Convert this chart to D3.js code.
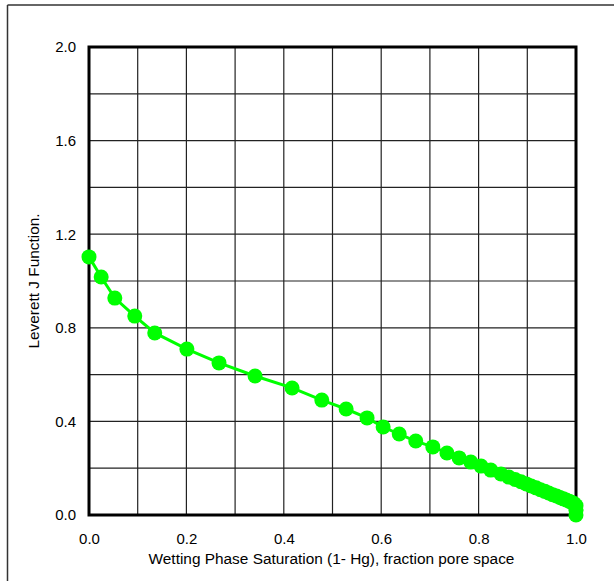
<!DOCTYPE html>
<html><head><meta charset="utf-8">
<script src="https://cdn.jsdelivr.net/npm/d3@7"></script>
<style>body{margin:0;background:#fff;}svg{display:block;font-family:"Liberation Sans",Arial,sans-serif;}</style>
</head><body>
<script>
const saturation = [0.0,0.025,0.053,0.094,0.135,0.201,0.267,0.341,0.417,0.478,0.528,0.571,0.604,0.637,0.671,0.706,0.735,0.760,0.784,0.805,0.825,0.846,0.862,0.875,0.887,0.898,0.908,0.918,0.927,0.936,0.944,0.952,0.960,0.967,0.974,0.980,0.986,0.991,0.996,1.0,1.0,1.0];
const jFunction  = [1.103,1.017,0.927,0.850,0.778,0.709,0.650,0.594,0.543,0.491,0.453,0.415,0.376,0.346,0.316,0.291,0.265,0.244,0.226,0.209,0.192,0.175,0.162,0.152,0.142,0.133,0.124,0.116,0.108,0.101,0.094,0.087,0.081,0.075,0.069,0.064,0.059,0.054,0.049,0.040,0.020,0.0];
const xTicks = [0,0.2,0.4,0.6,0.8,1.0];
const yTicks = [0,0.4,0.8,1.2,1.6,2.0];
const xGrid = d3.range(0,11).map(i=>i/10);
const yGrid = d3.range(0,11).map(i=>i/5);
const xTitle = "Wetting Phase Saturation (1- Hg), fraction pore space";
const yTitle = "Leverett J Function.";

const W=614,H=581,FS=15;
const svg=d3.select("body").append("svg").attr("width",W).attr("height",H);
// outer frame
svg.append("line").attr("x1",7.5).attr("x2",7.5).attr("y1",5).attr("y2",H).attr("stroke","#333").attr("stroke-width",1.5);
svg.append("line").attr("x1",7.5).attr("x2",W).attr("y1",5).attr("y2",5).attr("stroke","#333").attr("stroke-width",1.5);

const L=89,R=576,T=47,B=515;
const x=d3.scaleLinear().domain([0,1]).range([L,R]);
const y=d3.scaleLinear().domain([0,2]).range([B,T]);

const g=svg.append("g");
g.selectAll(".gx").data(xGrid).join("line").attr("x1",d=>x(d)).attr("x2",d=>x(d)).attr("y1",T).attr("y2",B).attr("stroke","#222").attr("stroke-width",1.2);
g.selectAll(".gy").data(yGrid).join("line").attr("y1",d=>y(d)).attr("y2",d=>y(d)).attr("x1",L).attr("x2",R).attr("stroke","#222").attr("stroke-width",1.2);
g.append("rect").attr("x",L).attr("y",T).attr("width",R-L).attr("height",B-T).attr("fill","none").attr("stroke","#000").attr("stroke-width",3);

const xAxis=d3.axisBottom(x).tickValues(xTicks).tickFormat(d3.format(".1f")).tickSize(0).tickPadding(18);
const ax=svg.append("g").attr("transform",`translate(0,${B})`).call(xAxis);
ax.select(".domain").remove();
ax.selectAll("text").attr("font-size",FS).attr("fill","#000").attr("font-family","Liberation Sans, Arial, sans-serif");
const yAxis=d3.axisLeft(y).tickValues(yTicks).tickFormat(d3.format(".1f")).tickSize(0).tickPadding(13);
const ay=svg.append("g").attr("transform",`translate(${L},0)`).call(yAxis);
ay.select(".domain").remove();
ay.selectAll("text").attr("font-size",FS).attr("fill","#000").attr("font-family","Liberation Sans, Arial, sans-serif");

svg.append("text").attr("x",(L+R)/2 - 1).attr("y",564).attr("text-anchor","middle").attr("font-size",15.4).text(xTitle);
svg.append("text").attr("transform",`translate(39,${(T+B)/2}) rotate(-90)`).attr("text-anchor","middle").attr("font-size",15.4).text(yTitle);

const data=saturation.map((s,i)=>({s,j:jFunction[i]}));
svg.append("path").datum(data).attr("fill","none").attr("stroke","#00ff00").attr("stroke-width",3)
  .attr("d",d3.line().x(d=>x(d.s)).y(d=>y(d.j)));
svg.selectAll(".pt").data(data).join("circle").attr("cx",d=>x(d.s)).attr("cy",d=>y(d.j)).attr("r",7.5).attr("fill","#00ff00");
</script>
</body></html>
